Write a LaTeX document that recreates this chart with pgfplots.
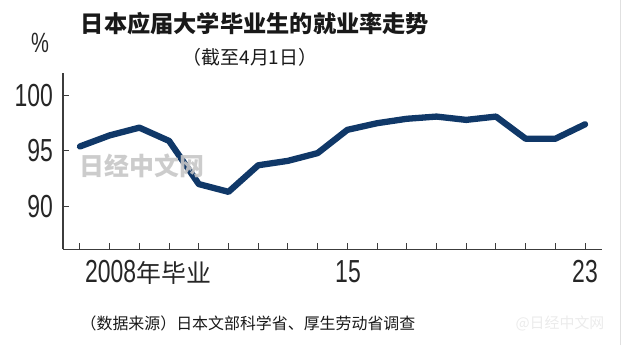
\documentclass[border=0pt]{standalone}
\usepackage{pgfplots}
\pgfplotsset{compat=1.18}
\usepackage{fontspec}
\setmainfont{Liberation Sans}
\newfontfamily\cjk{Noto Sans CJK SC}
\newfontfamily\numfont{Liberation Sans}[FakeStretch=0.72]
\definecolor{navy}{RGB}{16,56,104}
\definecolor{axisgray}{RGB}{60,60,60}
\begin{document}
\begin{tikzpicture}[x=1bp,y=1bp]
\path (0,0) rectangle (626,345);
\draw[black!12, line width=0.8bp] (620,0) -- (620,345);
\begin{axis}[
  at={(63bp,96bp)}, anchor=south west,
  scale only axis, width=539bp, height=176bp,
  xmin=2005.43, xmax=2023.57, ymin=86.1, ymax=102,
  axis lines*=left,
  axis line style={axisgray, line width=1.2bp},
  xtick={2006,...,2023}, xticklabels={},
  ytick={90,95,100}, yticklabels={90,95,100},
  yticklabel style={font=\numfont\fontsize{32}{32}\selectfont, inner sep=0pt, xshift=-10bp, text=black!85},
  tick align=inside, major tick length=6bp,
  tick style={axisgray, line width=1bp},
  clip=false,
]
\addplot[navy, line width=6.3bp, line join=round, line cap=round] coordinates {
(2006,95.4) (2007,96.4) (2008,97.1) (2009,95.9) (2010,92.0) (2011,91.3)
(2012,93.7) (2013,94.1) (2014,94.8) (2015,96.9) (2016,97.5) (2017,97.9)
(2018,98.1) (2019,97.8) (2020,98.1) (2021,96.1) (2022,96.1) (2023,97.4)
};
\end{axis}
% watermark
\node[text=black!22, font=\cjk\bfseries\fontsize{25}{25}\selectfont, opacity=0.9] at (142,180) {日经中文网};
\node[text=black!8, font=\cjk\fontsize{15}{15}\selectfont] at (560,22) {@日经中文网};
% titles
\node[font=\cjk\bfseries\fontsize{23.3}{24}\selectfont, text=black!90] at (255,322) {日本应届大学毕业生的就业率走势};
\node[font=\cjk\fontsize{19}{20}\selectfont, text=black!90] at (250,288) {（截至4月1日）};
\node[font=\numfont\fontsize{28}{28}\selectfont, text=black!85] at (40,302) {\%};
% x labels
\node[anchor=base west, inner sep=0pt, text=black!85] at (85,63) {\numfont\fontsize{32}{32}\selectfont 2008\cjk\fontsize{25}{25}\selectfont 年毕业};
\node[anchor=base, inner sep=0pt, text=black!85, font=\numfont\fontsize{32}{32}\selectfont] at (348,63) {15};
\node[anchor=base, inner sep=0pt, text=black!85, font=\numfont\fontsize{32}{32}\selectfont] at (585,63) {23};
% source
\node[font=\cjk\fontsize{16}{17}\selectfont, text=black!90] at (248,22) {（数据来源）日本文部科学省、厚生劳动省调查};
\end{tikzpicture}
\end{document}
